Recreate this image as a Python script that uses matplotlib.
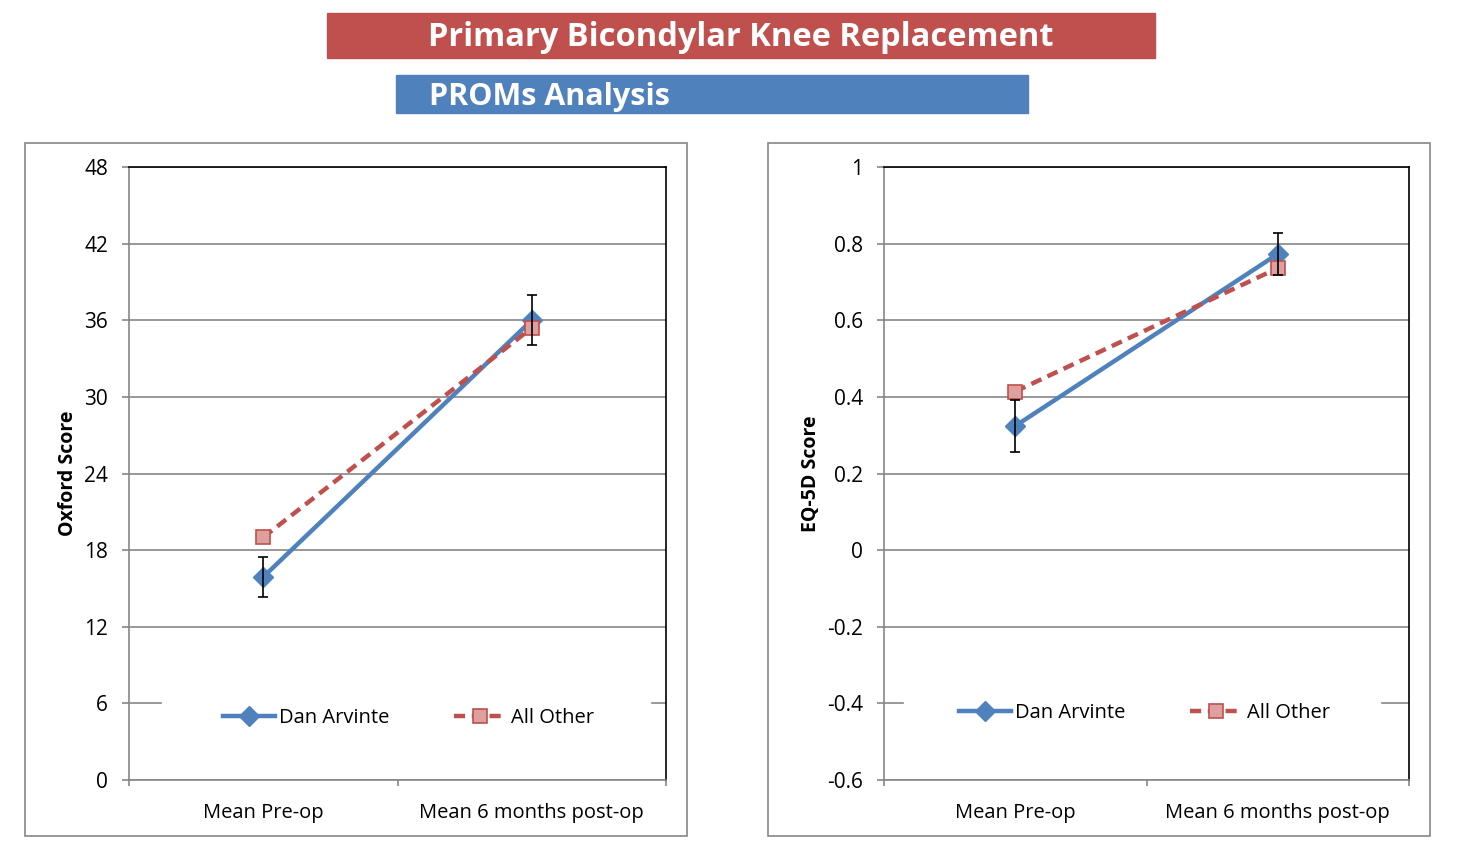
import matplotlib.pyplot as plt
from matplotlib.patches import Rectangle

plt.rcParams['font.family'] = ['Open Sans', 'DejaVu Sans']

categories = ["Mean Pre-op", "Mean 6 months post-op"]
series_names = ["Dan Arvinte", "All Other"]

# Oxford score
oxford_dan = [15.9, 36.0]
oxford_dan_err = [1.6, 1.95]
oxford_other = [19.0, 35.4]
oxford_ticks = [0, 6, 12, 18, 24, 30, 36, 42, 48]

# EQ-5D score
eq5d_dan = [0.324, 0.773]
eq5d_dan_err = [0.068, 0.055]
eq5d_other = [0.414, 0.736]
eq5d_ticks = [-0.6, -0.4, -0.2, 0, 0.2, 0.4, 0.6, 0.8, 1]

BLUE = "#4F81BD"
RED = "#C0504D"
GRID = "#868686"
W, H = 1463, 858

fig = plt.figure(figsize=(W / 100, H / 100), dpi=100)


def fig_rect(x0, y0, x1, y1):
    # pixel box -> figure fraction
    return [x0 / W, 1 - y1 / H, (x1 - x0) / W, (y1 - y0) / H]


# banners
fig.patches.append(Rectangle(fig_rect(327, 13, 1155, 58)[:2], 828 / W, 45 / H,
                             transform=fig.transFigure, color=RED, zorder=0))
fig.text(741 / W, 1 - 38 / H, "Primary Bicondylar Knee Replacement",
         color="white", fontsize=23.5, fontweight="bold", ha="center", va="center")
fig.patches.append(Rectangle(fig_rect(396, 75, 1028, 113)[:2], 632 / W, 38 / H,
                             transform=fig.transFigure, color=BLUE, zorder=0))
fig.text(429 / W, 1 - 97 / H, "PROMs Analysis",
         color="white", fontsize=22, fontweight="bold", ha="left", va="center")

# outer chart frames
for x0 in (25, 768):
    fig.patches.append(Rectangle((x0 / W, 1 - 836 / H), 662 / W, 693 / H,
                                 transform=fig.transFigure, fill=False,
                                 edgecolor=GRID, linewidth=1.2))


def draw(ax, dan, dan_err, other, ticks, ylabel, leg_xy, cover):
    x = range(len(categories))
    ax.set_xlim(-0.5, 1.5)
    ax.set_ylim(ticks[0], ticks[-1])
    ax.set_yticks(ticks)
    ax.set_yticklabels([f"{t:g}" for t in ticks])
    ax.yaxis.grid(True, color=GRID, linewidth=1.2)
    ax.set_axisbelow(True)
    ax.set_xticks([0, 1])
    ax.set_xticklabels(categories)
    ax.set_xticks([-0.5, 0.5, 1.5], minor=True)
    ax.tick_params(axis="x", which="major", length=0, pad=16.5, labelsize=14.5)
    ax.tick_params(axis="x", which="minor", length=4.5, color=GRID, width=1.2)
    ax.tick_params(axis="y", length=5, color=GRID, width=1.2, pad=10, labelsize=15)
    for s in ("top", "right"):
        ax.spines[s].set_color("black")
        ax.spines[s].set_linewidth(1.2)
    for s in ("left", "bottom"):
        ax.spines[s].set_color(GRID)
        ax.spines[s].set_linewidth(1.2)

    ax.plot(x, dan, color=BLUE, linewidth=3.2, marker="D", markersize=10,
            label=series_names[0], zorder=3)
    ax.plot(x, other, color=RED, linewidth=3.2, linestyle=(0, (2.5, 1.5)),
            marker="s", markersize=10, markerfacecolor="#DDA09E",
            markeredgecolor=RED, markeredgewidth=1.2,
            label=series_names[1], zorder=4)
    ax.errorbar(x, dan, yerr=dan_err, fmt="none", ecolor="black",
                elinewidth=1.2, capsize=3.6, capthick=1.2, zorder=5)
    ax.set_ylabel(ylabel, fontsize=14, fontweight="bold", labelpad=4.5)

    # white legend area hides the grid line behind it
    ax.add_patch(Rectangle((cover[0], 0.06), cover[1] - cover[0], 0.09,
                           transform=ax.transAxes, color="white", zorder=1))
    ax.legend(loc="center", bbox_to_anchor=leg_xy, ncol=2,
              frameon=False, fontsize=14.5, handlelength=2.6,
              handletextpad=0.2, columnspacing=3.2)


ax1 = fig.add_axes(fig_rect(129, 167, 666, 780))
draw(ax1, oxford_dan, oxford_dan_err, oxford_other, oxford_ticks,
     "Oxford Score", (0.520, 0.101), (0.061, 0.970))

ax2 = fig.add_axes(fig_rect(884, 167, 1409, 780))
draw(ax2, eq5d_dan, eq5d_dan_err, eq5d_other, eq5d_ticks,
     "EQ-5D Score", (0.496, 0.110), (0.038, 0.945))

fig.savefig("out.png", dpi=100)
